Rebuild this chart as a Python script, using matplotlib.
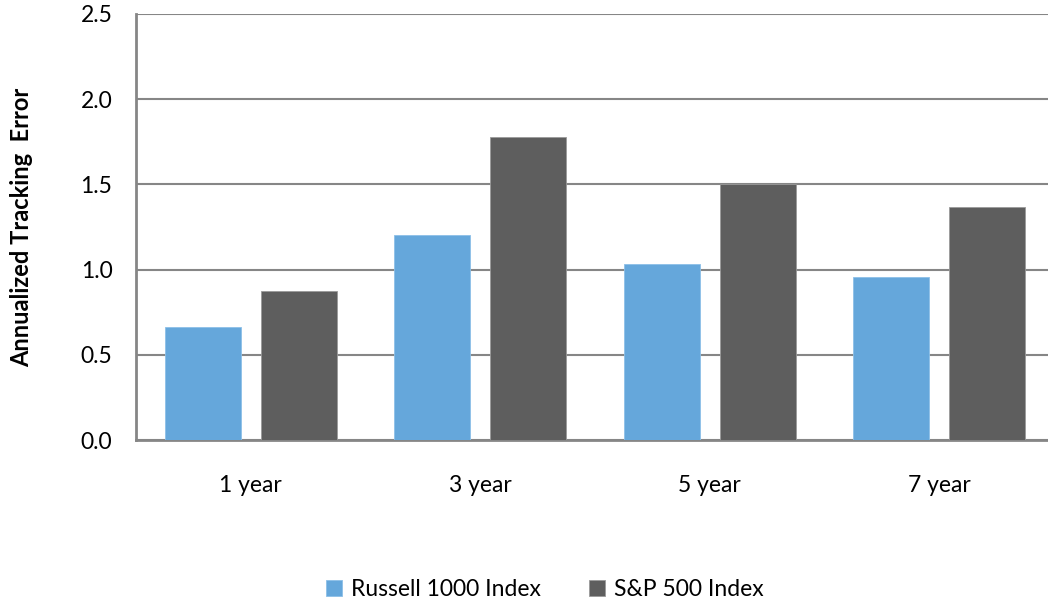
import numpy as np
import matplotlib
matplotlib.use("Agg")
import matplotlib.pyplot as plt

# chart data
periods = ['1 year', '3 year', '5 year', '7 year']
russell_1000 = [0.665, 1.205, 1.03, 0.957]
sp_500 = [0.877, 1.78, 1.50, 1.37]
series_names = ['Russell 1000 Index', 'S&P 500 Index']

plt.rcParams['font.family'] = ['Lato', 'DejaVu Sans']

fig = plt.figure(figsize=(10.48, 6.03), dpi=100)
ax = fig.add_axes([0.1298, 0.2703, 0.8757, 0.7065])

x = np.arange(len(periods))
w = 0.331
off = 0.209
ax.bar(x - off, russell_1000, w, color='#65A7DB', edgecolor='#8cc0e8', linewidth=0.6,
       label=series_names[0], zorder=3)
ax.bar(x + off, sp_500, w, color='#5E5E5E', edgecolor='#9a9a9a', linewidth=0.6,
       label=series_names[1], zorder=3)

ax.set_xlim(-0.5, 3.5)
ax.set_ylim(0, 2.5)
ax.set_yticks(np.arange(0, 2.51, 0.5))
ax.set_yticklabels([f'{v:.1f}' for v in np.arange(0, 2.51, 0.5)])
ax.set_xticks(x)
ax.set_xticklabels(periods)
ax.tick_params(axis='both', length=0, labelsize=16.5, colors='black')
ax.tick_params(axis='y', pad=17)
ax.tick_params(axis='x', pad=25)

ax.yaxis.grid(True, color='#868686', linewidth=1.5, zorder=0)
ax.set_axisbelow(True)
for s in ['top', 'right']:
    ax.spines[s].set_visible(False)
for s in ['left', 'bottom']:
    ax.spines[s].set_color('#868686')
    ax.spines[s].set_linewidth(2)

ax.set_ylabel('Annualized Tracking  Error', fontsize=17, fontweight='bold', labelpad=34)

fig.legend(loc='center', bbox_to_anchor=(0.52, 0.022), ncol=2, frameon=False,
           fontsize=16.5, handlelength=0.7, handleheight=0.7, handletextpad=0.4,
           columnspacing=2.1)

fig.savefig('out.png', dpi=100)
